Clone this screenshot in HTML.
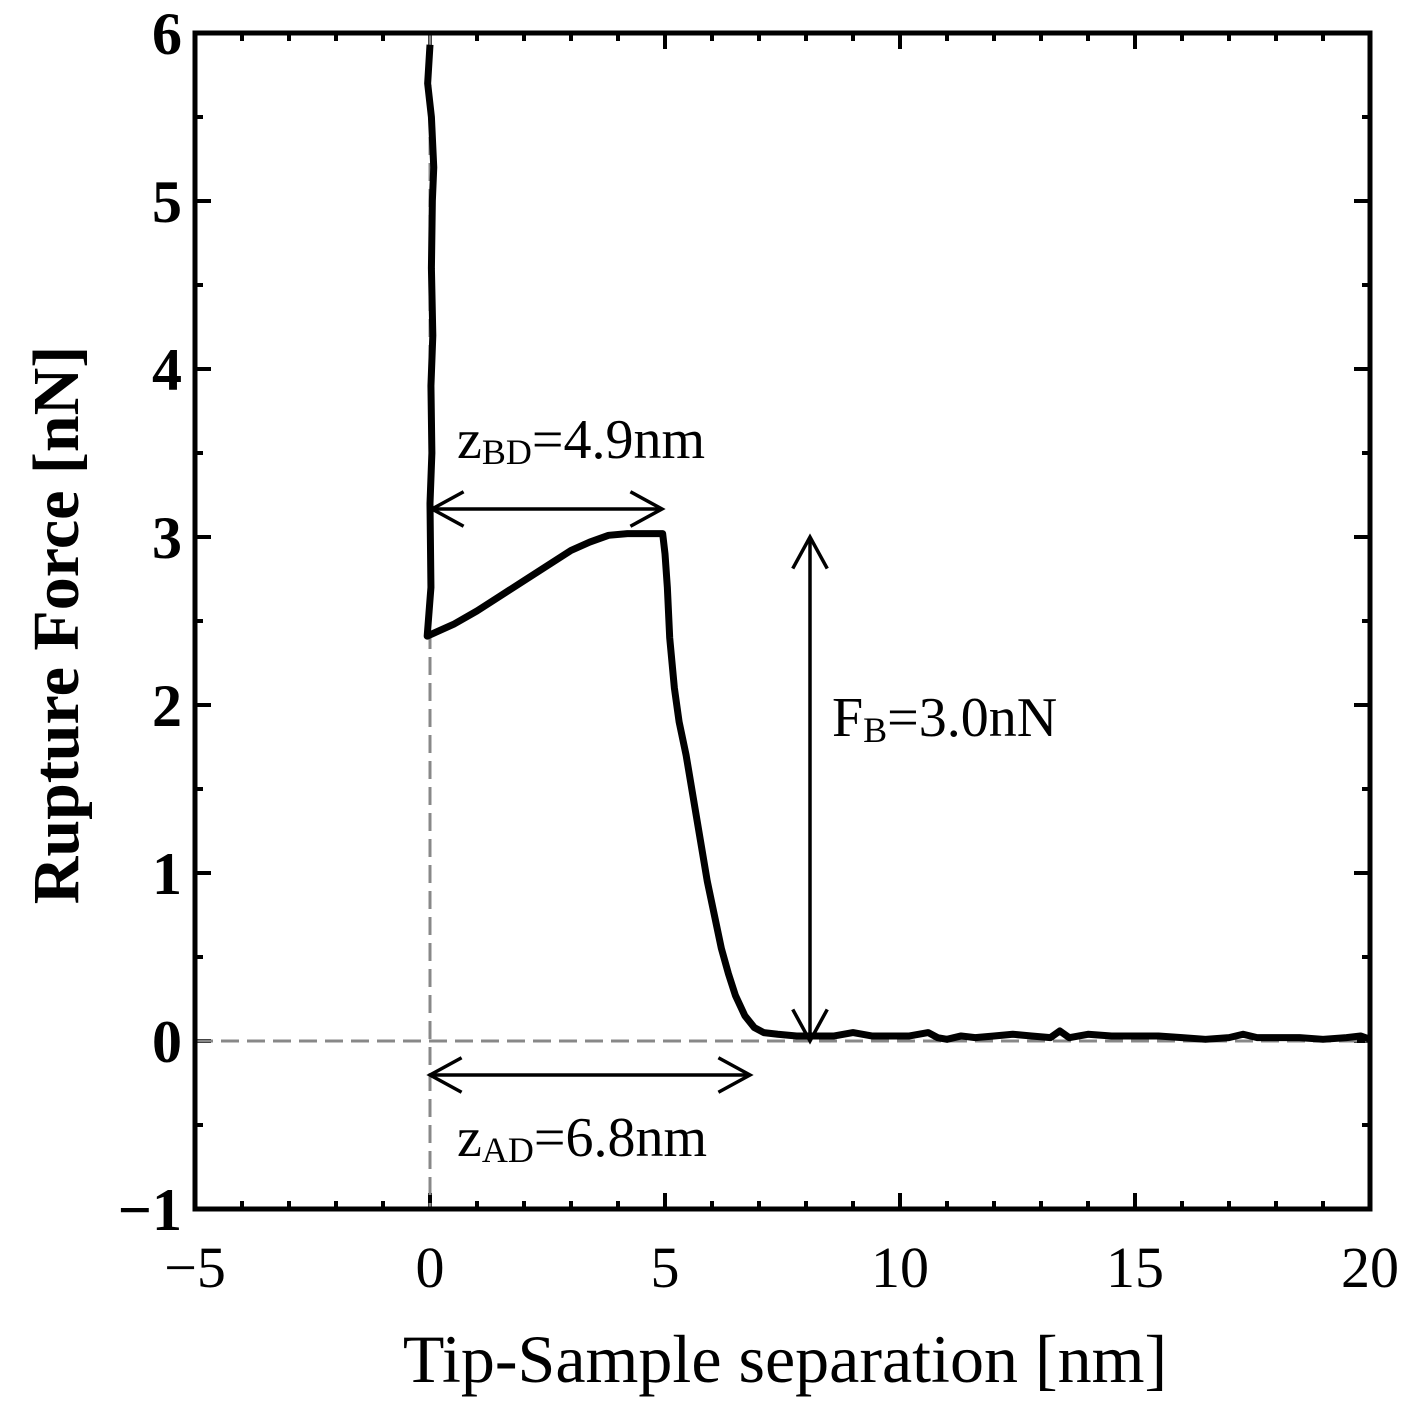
<!DOCTYPE html>
<html><head><meta charset="utf-8"><style>
body{margin:0;background:#fff}
svg{display:block;font-family:"Liberation Serif",serif}
</style></head><body>
<svg width="1417" height="1424" viewBox="0 0 1417 1424">
<g id="ticks"></g>
<g id="guides"></g>
<g id="series"></g>
<g id="annot"></g>
<rect x="195" y="33" width="1175" height="1176" fill="none" stroke="#000" stroke-width="5"/>
<text x="785" y="1382" font-size="68" text-anchor="middle">Tip-Sample separation [nm]</text>
<text transform="translate(78,625) rotate(-90)" font-size="66" font-weight="bold" text-anchor="middle">Rupture Force [nN]</text>
</svg>
<script>
const xTicks=[-5,0,5,10,15,20];
const xTickLabels=["\u22125","0","5","10","15","20"];
const yTicks=[-1,0,1,2,3,4,5,6];
const yTickLabels=["\u22121","0","1","2","3","4","5","6"];
const curveX=[0,-0.05,0.03,0.08,0.05,0.03,0.06,0.02,0.04,0,0.02,-0.06,0.5,1,1.5,2,2.5,3,3.4,3.8,4.2,4.6,4.95,5.0,5.05,5.1,5.2,5.3,5.45,5.6,5.75,5.9,6.05,6.2,6.35,6.5,6.7,6.9,7.1,7.4,7.8,8.2,8.6,9.0,9.4,9.8,10.2,10.6,10.8,11.0,11.3,11.6,12,12.4,12.8,13.2,13.4,13.6,14,14.5,15,15.5,16,16.5,17,17.3,17.6,18,18.5,19,19.5,19.8,20];
const curveY=[5.93,5.7,5.5,5.2,5.0,4.6,4.2,3.9,3.5,3.2,2.7,2.41,2.48,2.56,2.65,2.74,2.83,2.92,2.97,3.01,3.02,3.02,3.02,2.9,2.7,2.4,2.1,1.9,1.7,1.45,1.2,0.95,0.75,0.55,0.4,0.27,0.15,0.08,0.05,0.04,0.03,0.03,0.03,0.05,0.03,0.03,0.03,0.05,0.02,0.01,0.03,0.02,0.03,0.04,0.03,0.02,0.06,0.02,0.04,0.03,0.03,0.03,0.02,0.01,0.02,0.04,0.02,0.02,0.02,0.01,0.02,0.03,0.01];
const X=v=>430+(v)*47, Y=v=>1041-v*168;
const NS="http://www.w3.org/2000/svg";
function mk(p,t,a){const e=document.createElementNS(NS,t);for(const k in a)e.setAttribute(k,a[k]);p.appendChild(e);return e;}
const tk=document.getElementById('ticks');
for(let v=-5;v<=20;v++){const maj=v%5===0,L=maj?16:8;
 const a=mk(tk,'line',{x1:X(v),x2:X(v),y1:1209,y2:1209-L,stroke:'#000','stroke-width':4});
 
 
 const b=mk(tk,'line',{x1:X(v),x2:X(v),y1:33,y2:33+L,stroke:'#000','stroke-width':4});
 
 }
for(let v=-1;v<=6;v+=0.5){const maj=Number.isInteger(v),L=maj?16:8;
 const a=mk(tk,'line',{x1:195,x2:195+L,y1:Y(v),y2:Y(v),stroke:'#000','stroke-width':4});
 
 
 const b=mk(tk,'line',{x1:1370,x2:1370-L,y1:Y(v),y2:Y(v),stroke:'#000','stroke-width':4});
 
 }
xTicks.forEach((v,i)=>{const t=mk(tk,'text',{x:X(v),y:1287,'font-size':58,'text-anchor':'middle'});t.textContent=xTickLabels[i];
 
 });
yTicks.forEach((v,i)=>{const t=mk(tk,'text',{x:182,y:Y(v)+21,'font-size':60,'font-weight':'bold','text-anchor':'end'});t.textContent=yTickLabels[i];
 
 });
const g=document.getElementById('guides');
const h=mk(g,'line',{x1:195,x2:1370,y1:Y(0),y2:Y(0),stroke:'#888','stroke-width':3,'stroke-dasharray':'18 8'});


const vv=mk(g,'line',{x1:X(0),x2:X(0),y1:33,y2:1209,stroke:'#888','stroke-width':3,'stroke-dasharray':'18 8'});


const s=document.getElementById('series');
const p=mk(s,'polyline',{points:curveX.map((x,i)=>X(x)+','+Y(curveY[i])).join(' '),fill:'none',stroke:'#000','stroke-width':7,'stroke-linejoin':'round'});


const an=document.getElementById('annot');
function arrow(x1,y1,x2,y2,name){const gg=mk(an,'g',{});
 
 
 mk(gg,'line',{x1,y1,x2,y2,stroke:'#000','stroke-width':3.5});
 const ang=Math.atan2(y2-y1,x2-x1),L=36,w=0.5;
 [[x1,y1,ang],[x2,y2,ang+Math.PI]].forEach(([x,y,a])=>{
  mk(gg,'polyline',{points:`${x+L*Math.cos(a+w)},${y+L*Math.sin(a+w)} ${x},${y} ${x+L*Math.cos(a-w)},${y+L*Math.sin(a-w)}`,fill:'none',stroke:'#000','stroke-width':3.5});});}
arrow(432,509,662,509,'zbd-arrow');
arrow(810,537,810,1041,'fb-arrow');
arrow(430,1075,750,1075,'zad-arrow');
function lab(x,y,main,sub,rest,name){const t=mk(an,'text',{x,y,'font-size':56});
 
 
 t.innerHTML=`${main}<tspan font-size="36" dy="6">${sub}</tspan><tspan dy="-6">${rest}</tspan>`;}
lab(457,458,'z','BD','=4.9nm','zbd-label');
lab(832,736,'F','B','=3.0nN','fb-label');
lab(457,1156,'z','AD','=6.8nm','zad-label');
</script>
</body></html>
